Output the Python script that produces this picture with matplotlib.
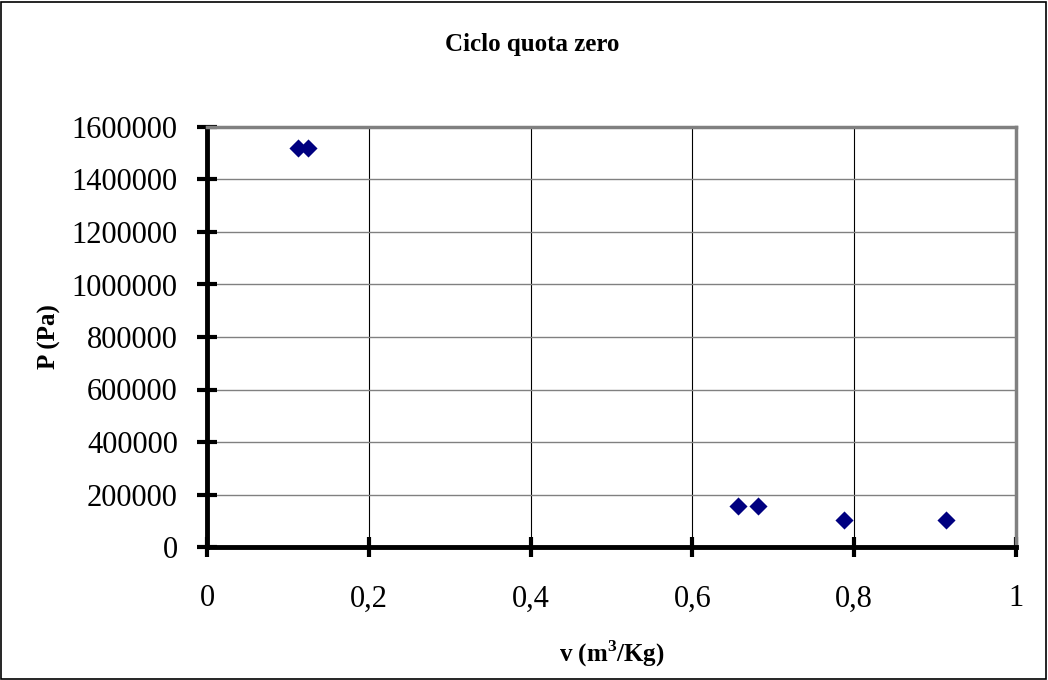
import matplotlib
matplotlib.use("Agg")
import matplotlib.pyplot as plt
from matplotlib.patches import Rectangle

v_values = [0.113, 0.125, 0.656, 0.681, 0.787, 0.913]
p_values = [1520000, 1520000, 155000, 155000, 101325, 101325]
x_ticks = [0, 0.2, 0.4, 0.6, 0.8, 1.0]
x_tick_labels = ["0", "0,2", "0,4", "0,6", "0,8", "1"]
y_ticks = [0, 200000, 400000, 600000, 800000, 1000000, 1200000, 1400000, 1600000]
y_tick_labels = [str(t) for t in y_ticks]

plt.rcParams['font.family'] = ['Liberation Serif', 'DejaVu Serif']
plt.rcParams['mathtext.fontset'] = 'custom'
plt.rcParams['mathtext.rm'] = 'Liberation Serif'
plt.rcParams['mathtext.bf'] = 'Liberation Serif:bold'

fig = plt.figure(figsize=(10.48, 6.8), dpi=100)
W, H = 1048, 680
ax = fig.add_axes([207 / W, 1 - 547 / H, (1016 - 207) / W, (547 - 127) / H])

ax.scatter(v_values, p_values, marker='D', s=85, color='#000080', zorder=3, linewidths=0)

ax.set_xlim(0, 1)
ax.set_ylim(0, 1600000)
ax.set_xticks(x_ticks)
ax.set_xticklabels(x_tick_labels, fontsize=22)
ax.set_yticks(y_ticks)
ax.set_yticklabels(y_tick_labels, fontsize=22)

ax.xaxis.grid(True, color='black', linewidth=0.8)
ax.yaxis.grid(True, color='#808080', linewidth=1.0)
ax.set_axisbelow(True)

for side in ['top', 'right']:
    ax.spines[side].set_color('#808080')
    ax.spines[side].set_linewidth(2.5)
for side in ['left', 'bottom']:
    ax.spines[side].set_color('black')
    ax.spines[side].set_linewidth(3.5)

ax.tick_params(axis='both', direction='inout', length=14, width=3, color='black')
ax.tick_params(axis='x', pad=20)
ax.tick_params(axis='y', pad=14)

ax.set_xlabel(r"v (m$^{\mathbf{3}}$/Kg)", fontsize=18, fontweight='bold', labelpad=18)
ax.set_ylabel("P (Pa)", fontsize=18, fontweight='bold', labelpad=8)
fig.text(532 / W, 1 - 45 / H, "Ciclo quota zero", ha='center', va='center',
         fontsize=18, fontweight='bold')

fig.patches.append(Rectangle((1 / W, 1 / H), (W - 3) / W, (H - 3) / H, transform=fig.transFigure,
                             fill=False, edgecolor='black', linewidth=1.2))

fig.savefig("out.png", dpi=100)
